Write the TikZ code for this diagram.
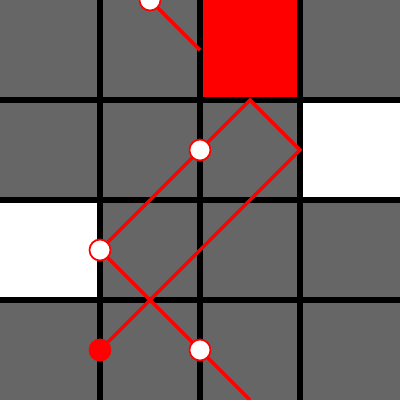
\documentclass[tikz,border=0pt]{standalone}
\begin{document}
\begin{tikzpicture}[x=1cm,y=-1cm,
  gridline/.style={black,line width=1.45pt},
  redline/.style={red,line width=1pt},
  opendot/.style={circle,draw=red,fill=white,line width=0.5pt,minimum size=0.21cm,inner sep=0pt},
  fulldot/.style={circle,draw=red,fill=red,line width=0.5pt,minimum size=0.21cm,inner sep=0pt}]
\definecolor{gray666}{HTML}{666666}
\useasboundingbox (0,0) rectangle (4,4);
\fill[gray666] (0,0) rectangle (4,4);
\fill[red] (2,0) rectangle (3,1);
\fill[white] (3,1) rectangle (4,2);
\fill[white] (0,2) rectangle (1,3);
\foreach \k in {1,2,3} {
  \draw[gridline] (\k,0) -- (\k,4);
  \draw[gridline] (0,\k) -- (4,\k);
}
\coordinate (s1) at (1.5,0);
\coordinate (s2) at (2,0.5);
\coordinate (r1) at (1,2.5);
\coordinate (r2) at (2.5,1);
\coordinate (r3) at (3,1.5);
\coordinate (r4) at (1,3.5);
\coordinate (e) at (2.5,4);
\draw[redline] (s1) -- (s2);
\draw[redline] (r1) -- (r2) -- (r3) -- (r4);
\draw[redline] (r1) -- (e);
\node[opendot] (d1) at (s1) {};
\node[opendot] (d2) at (2,1.5) {};
\node[opendot] (d3) at (r1) {};
\node[opendot] (d4) at (2,3.5) {};
\node[fulldot] (d5) at (r4) {};
\end{tikzpicture}
\end{document}
